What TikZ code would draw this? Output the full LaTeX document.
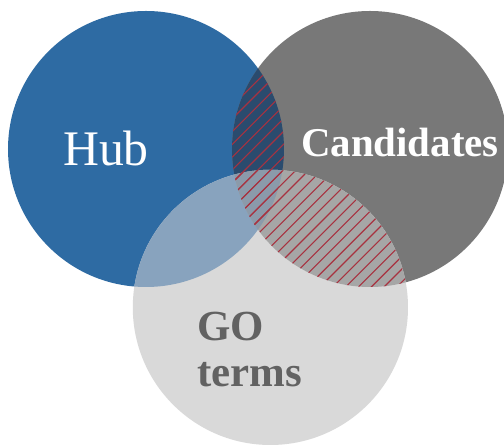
\documentclass[tikz,border=0pt]{standalone}
\usepackage{fontspec}
\setmainfont{Liberation Serif}
\usepackage{xcolor}
\definecolor{hubblue}{RGB}{46,107,163}
\definecolor{candgray}{RGB}{120,120,120}
\definecolor{gogray}{RGB}{217,217,217}
\definecolor{hubcand}{RGB}{42,75,110}
\definecolor{hubgo}{RGB}{136,163,190}
\definecolor{candgo}{RGB}{166,166,166}
\definecolor{allthree}{RGB}{139,154,170}
\definecolor{hatchred}{RGB}{168,50,64}
\definecolor{golabel}{RGB}{98,98,98}
% the three sets
\newcommand{\hubset}{(3.65,7.45) circle (3.45)}
\newcommand{\candset}{(9.25,7.45) circle (3.45)}
\newcommand{\goset}{(6.76,3.49) circle (3.44)}

\begin{document}
\begin{tikzpicture}[
    setlabel/.style={inner sep=0pt,text=white},
    hatch/.style={hatchred,line width=0.8pt}
]
\fill[white] (0,0) rectangle (12.6,11.175);
\useasboundingbox (0,0) rectangle (12.6,11.175);

\fill[hubblue] \hubset;
\fill[candgray] \candset;
\fill[gogray] \goset;

% pairwise overlaps
\begin{scope}
  \clip \hubset;
  \fill[hubcand] \candset;
  \fill[hubgo] \goset;
\end{scope}
\begin{scope}
  \clip \candset;
  \fill[candgo] \goset;
\end{scope}
\begin{scope}
  \clip \hubset; \clip \candset;
  \fill[allthree] \goset;
\end{scope}

% hatching on the candidates that are hub or GO
\begin{scope}
  \clip \candset; \clip \hubset;
  \foreach \c in {-12,-11.68,...,12.6} \draw[hatch] (\c,0) -- ++(11.2,11.2);
\end{scope}
\begin{scope}
  \clip \candset; \clip \goset;
  \foreach \c in {-12,-11.68,...,12.6} \draw[hatch] (\c,0) -- ++(11.2,11.2);
\end{scope}

\node[setlabel,anchor=base,font=\fontsize{35.4}{40}\selectfont] (hub) at (2.65,7.025) {Hub};
\node[setlabel,anchor=base,font=\fontsize{29.1}{33}\selectfont\bfseries] (cand) at (10.0,7.25) {Candidates};
\node[setlabel,text=golabel,anchor=north west,align=left,font=\fontsize{30.5}{32.5}\selectfont\bfseries] (go) at (4.925,3.375) {GO\\terms};
\end{tikzpicture}
\end{document}
